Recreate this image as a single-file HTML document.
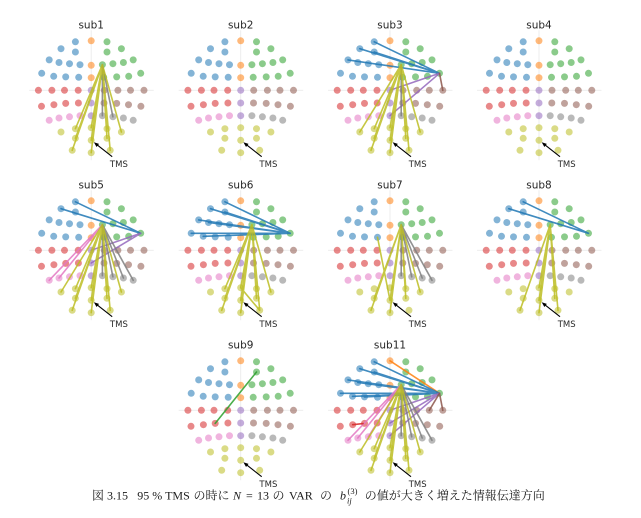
<!DOCTYPE html>
<html>
<head>
<meta charset="utf-8">
<style>
html,body{margin:0;padding:0;background:#fff;}
svg{display:block;}
.t{font-family:"DejaVu Sans","Liberation Sans",sans-serif;font-size:10.5px;fill:#262626;text-anchor:middle;}
.tms{font-family:"DejaVu Sans","Liberation Sans",sans-serif;font-size:8.5px;fill:#262626;text-anchor:middle;}
.cap{font-family:"Liberation Serif","Noto Serif CJK SC",serif;font-size:12px;fill:#1a1a1a;}
.ln path{fill:none;stroke-width:1.6;stroke-opacity:.85;stroke-linecap:round;}
</style>
</head>
<body>
<svg width="641" height="518" viewBox="0 0 641 518" xmlns="http://www.w3.org/2000/svg">
<defs>
<g id="base">
  <path d="M-62 0H62.5M0 -60V70" stroke="#ebebeb" stroke-width="0.9" fill="none"/>
  <g fill-opacity="0.55">
    <g fill="#1f77b4">
      <circle cx="-15.8" cy="-48.5" r="3.5"/><circle cx="-30.2" cy="-41.6" r="3.5"/><circle cx="-15.8" cy="-38.3" r="3.5"/>
      <circle cx="-42" cy="-30.4" r="3.5"/><circle cx="-32.2" cy="-27.8" r="3.5"/><circle cx="-21.7" cy="-26.6" r="3.5"/><circle cx="-11.2" cy="-25.6" r="3.5"/>
      <circle cx="-49.5" cy="-17" r="3.5"/><circle cx="-37.5" cy="-14" r="3.5"/><circle cx="-25.5" cy="-13.4" r="3.5"/><circle cx="-12.5" cy="-13" r="3.5"/>
    </g>
    <g fill="#ff7f0e">
      <circle cx="0" cy="-49.5" r="3.5"/><circle cx="0" cy="-25" r="3.5"/><circle cx="0" cy="-12.6" r="3.5"/>
    </g>
    <g fill="#2ca02c">
      <circle cx="15.8" cy="-48.5" r="3.5"/><circle cx="30.2" cy="-41.6" r="3.5"/><circle cx="15.8" cy="-38.3" r="3.5"/>
      <circle cx="42" cy="-30.4" r="3.5"/><circle cx="32.2" cy="-27.8" r="3.5"/><circle cx="21.7" cy="-26.6" r="3.5"/><circle cx="11.2" cy="-25.6" r="3.5"/>
      <circle cx="49.5" cy="-17" r="3.5"/><circle cx="37.5" cy="-14" r="3.5"/><circle cx="25.5" cy="-13.4" r="3.5"/><circle cx="12.5" cy="-13" r="3.5"/>
    </g>
    <g fill="#d62728">
      <circle cx="-52.8" cy="0" r="3.5"/><circle cx="-39.3" cy="0" r="3.5"/><circle cx="-26.7" cy="0" r="3.5"/><circle cx="-13" cy="0" r="3.5"/>
      <circle cx="-49.7" cy="16" r="3.5"/><circle cx="-37.3" cy="14.4" r="3.5"/><circle cx="-25.5" cy="13.1" r="3.5"/><circle cx="-12.8" cy="12.7" r="3.5"/>
    </g>
    <g fill="#9467bd">
      <circle cx="0" cy="0" r="3.5"/><circle cx="0" cy="12.7" r="3.5"/><circle cx="0" cy="25.4" r="3.5"/>
    </g>
    <g fill="#8c564b">
      <circle cx="52.8" cy="0" r="3.5"/><circle cx="39.3" cy="0" r="3.5"/><circle cx="26.7" cy="0" r="3.5"/><circle cx="13" cy="0" r="3.5"/>
      <circle cx="49.7" cy="16" r="3.5"/><circle cx="37.3" cy="14.4" r="3.5"/><circle cx="25.5" cy="13.1" r="3.5"/><circle cx="12.8" cy="12.7" r="3.5"/>
    </g>
    <g fill="#e377c2">
      <circle cx="-42" cy="30" r="3.5"/><circle cx="-32.2" cy="27.7" r="3.5"/><circle cx="-21.7" cy="26.5" r="3.5"/><circle cx="-11.2" cy="25.4" r="3.5"/>
    </g>
    <g fill="#7f7f7f">
      <circle cx="42" cy="30" r="3.5"/><circle cx="32.2" cy="27.7" r="3.5"/><circle cx="21.7" cy="26.5" r="3.5"/><circle cx="11.2" cy="25.4" r="3.5"/>
    </g>
    <g fill="#bcbd22">
      <circle cx="-30.2" cy="41.7" r="3.5"/><circle cx="-15.8" cy="38.4" r="3.5"/><circle cx="0" cy="37.4" r="3.5"/><circle cx="15.8" cy="38.4" r="3.5"/><circle cx="30.2" cy="41.7" r="3.5"/>
      <circle cx="-15.8" cy="48" r="3.5"/><circle cx="0" cy="50" r="3.5"/><circle cx="15.8" cy="48" r="3.5"/>
      <circle cx="-19" cy="60" r="3.5"/><circle cx="0" cy="62.4" r="3.5"/><circle cx="19" cy="60" r="3.5"/>
    </g>
  </g>
</g>
<g id="arrow">
  <path d="M21 66.4L6.2 54.8" stroke="#000" stroke-width="1.1" fill="none"/>
  <polygon points="2.7,52 7.84,53.53 5.36,56.67" fill="#000"/>
</g>
</defs>

<!-- Row 1 -->
<g transform="translate(91.2,90.3)">
  <use href="#base"/>
  <g class="ln">
    <path stroke="#7f7f7f" d="M11.2 -25.6L11.2 25.4M11.2 -25.6L21.7 26.5"/>
    <path stroke="#bcbd22" d="M11.2 -25.6L-15.8 38.4M11.2 -25.6L0 37.4M11.2 -25.6L15.8 38.4M11.2 -25.6L30.2 41.7M11.2 -25.6L-15.8 48M11.2 -25.6L0 50M11.2 -25.6L15.8 48M11.2 -25.6L-19 60M11.2 -25.6L0 62.4M11.2 -25.6L19 60"/>
  </g>
  <use href="#arrow"/>
  <text class="t" x="0" y="-62">sub1</text>
  <text class="tms" x="27.7" y="76.8">TMS</text>
</g>

<g transform="translate(240.7,90.3)">
  <use href="#base"/>
  <use href="#arrow"/>
  <text class="t" x="0" y="-62">sub2</text>
  <text class="tms" x="27.7" y="76.8">TMS</text>
</g>

<g transform="translate(390,90.3)">
  <use href="#base"/>
  <g class="ln">
    <path stroke="#1f77b4" d="M49.5 -17L-15.8 -48.5M49.5 -17L-30.2 -41.6M49.5 -17L-15.8 -38.3M49.5 -17L-42 -30.4"/>
    <path stroke="#9467bd" d="M49.5 -17L0 0M49.5 -17L0 25.4"/>
    <path stroke="#8c564b" d="M49.5 -17L52.8 0"/>
    <path stroke="#7f7f7f" d="M11.2 -25.6L11.2 25.4"/>
    <path stroke="#bcbd22" d="M11.2 -25.6L-30.2 41.7M11.2 -25.6L-15.8 38.4M11.2 -25.6L0 37.4M11.2 -25.6L15.8 38.4M11.2 -25.6L30.2 41.7M11.2 -25.6L-15.8 48M11.2 -25.6L0 50M11.2 -25.6L15.8 48M11.2 -25.6L-19 60M11.2 -25.6L0 62.4M11.2 -25.6L19 60"/>
  </g>
  <use href="#arrow"/>
  <text class="t" x="0" y="-62">sub3</text>
  <text class="tms" x="27.7" y="76.8">TMS</text>
</g>

<g transform="translate(539,90.3)">
  <use href="#base"/>
  <use href="#arrow"/>
  <text class="t" x="0" y="-62">sub4</text>
  <text class="tms" x="27.7" y="76.8">TMS</text>
</g>

<!-- Row 2 -->
<g transform="translate(91.2,250.3)">
  <use href="#base"/>
  <g class="ln">
    <path stroke="#1f77b4" d="M49.5 -17L-15.8 -48.5M49.5 -17L-30.2 -41.6"/>
    <path stroke="#9467bd" d="M49.5 -17L0 0M49.5 -17L0 12.7"/>
    <path stroke="#e377c2" d="M11.2 -25.6L-42 30M11.2 -25.6L-32.2 27.7"/>
    <path stroke="#7f7f7f" d="M11.2 -25.6L11.2 25.4M11.2 -25.6L21.7 26.5M11.2 -25.6L32.2 27.7M11.2 -25.6L42 30"/>
    <path stroke="#bcbd22" d="M11.2 -25.6L-30.2 41.7M11.2 -25.6L-15.8 38.4M11.2 -25.6L0 37.4M11.2 -25.6L15.8 38.4M11.2 -25.6L30.2 41.7M11.2 -25.6L-15.8 48M11.2 -25.6L0 50M11.2 -25.6L15.8 48M11.2 -25.6L-19 60M11.2 -25.6L0 62.4M11.2 -25.6L19 60"/>
  </g>
  <use href="#arrow"/>
  <text class="t" x="0" y="-62">sub5</text>
  <text class="tms" x="27.7" y="76.8">TMS</text>
</g>

<g transform="translate(240.7,250.3)">
  <use href="#base"/>
  <g class="ln">
    <path stroke="#1f77b4" d="M49.5 -17L-15.8 -48.5M49.5 -17L-30.2 -41.6M49.5 -17L-15.8 -38.3M49.5 -17L-42 -30.4M49.5 -17L-32.2 -27.8M49.5 -17L-49.5 -17M49.5 -17L-37.5 -14"/>
    <path stroke="#bcbd22" d="M11.2 -25.6L-15.8 38.4M11.2 -25.6L0 37.4M11.2 -25.6L15.8 38.4M11.2 -25.6L30.2 41.7M11.2 -25.6L-15.8 48M11.2 -25.6L0 50M11.2 -25.6L15.8 48M11.2 -25.6L-19 60M11.2 -25.6L0 62.4M11.2 -25.6L19 60M0 37.4L19 60"/>
  </g>
  <use href="#arrow"/>
  <text class="t" x="0" y="-62">sub6</text>
  <text class="tms" x="27.7" y="76.8">TMS</text>
</g>

<g transform="translate(390,250.3)">
  <use href="#base"/>
  <g class="ln">
    <path stroke="#7f7f7f" d="M11.2 -25.6L11.2 25.4M11.2 -25.6L21.7 26.5M11.2 -25.6L32.2 27.7M11.2 -25.6L42 30"/>
    <path stroke="#bcbd22" d="M11.2 -25.6L-19 60M11.2 -25.6L-15.8 48M11.2 -25.6L0 62.4M11.2 -25.6L0 50M11.2 -25.6L15.8 38.4M11.2 -25.6L15.8 48M11.2 -25.6L30.2 41.7M-12.5 -13L0 50"/>
  </g>
  <use href="#arrow"/>
  <text class="t" x="0" y="-62">sub7</text>
  <text class="tms" x="27.7" y="76.8">TMS</text>
</g>

<g transform="translate(539,250.3)">
  <use href="#base"/>
  <g class="ln">
    <path stroke="#1f77b4" d="M49.5 -17L-15.8 -48.5M49.5 -17L-30.2 -41.6"/>
    <path stroke="#bcbd22" d="M11.2 -25.6L-19 60M11.2 -25.6L0 37.4M11.2 -25.6L0 50M11.2 -25.6L0 62.4M11.2 -25.6L15.8 38.4M11.2 -25.6L15.8 48M11.2 -25.6L19 60"/>
  </g>
  <use href="#arrow"/>
  <text class="t" x="0" y="-62">sub8</text>
  <text class="tms" x="27.7" y="76.8">TMS</text>
</g>

<!-- Row 3 -->
<g transform="translate(240.7,410.3)">
  <use href="#base"/>
  <g class="ln">
    <path stroke="#2ca02c" d="M15.8 -38.3L-25.5 13.1"/>
  </g>
  <use href="#arrow"/>
  <text class="t" x="0" y="-62">sub9</text>
  <text class="tms" x="27.7" y="76.8">TMS</text>
</g>

<g transform="translate(390,410.3)">
  <use href="#base"/>
  <g class="ln">
    <path stroke="#ff7f0e" d="M49.5 -17L0 -49.5"/>
    <path stroke="#1f77b4" d="M49.5 -17L-15.8 -48.5M49.5 -17L-30.2 -41.6M49.5 -17L-15.8 -38.3M49.5 -17L-42 -30.4M49.5 -17L-32.2 -27.8M49.5 -17L-21.7 -26.6M49.5 -17L-49.5 -17M49.5 -17L-37.5 -14M49.5 -17L-25.5 -13.4"/>
    <path stroke="#9467bd" d="M49.5 -17L0 0M49.5 -17L0 12.7M49.5 -17L0 25.4"/>
    <path stroke="#8c564b" d="M49.5 -17L52.8 0M49.5 -17L39.3 0"/>
    <path stroke="#e377c2" d="M11.2 -25.6L-42 30M11.2 -25.6L-32.2 27.7M11.2 -25.6L-21.7 26.5"/>
    <path stroke="#d62728" d="M-37.3 14.4L-27 13.3"/>
    <path stroke="#7f7f7f" d="M11.2 -25.6L11.2 25.4M11.2 -25.6L21.7 26.5M11.2 -25.6L32.2 27.7M11.2 -25.6L42 30"/>
    <path stroke="#bcbd22" d="M11.2 -25.6L-30.2 41.7M11.2 -25.6L-15.8 38.4M11.2 -25.6L0 37.4M11.2 -25.6L15.8 38.4M11.2 -25.6L30.2 41.7M11.2 -25.6L-15.8 48M11.2 -25.6L0 50M11.2 -25.6L15.8 48M11.2 -25.6L-19 60M11.2 -25.6L0 62.4M11.2 -25.6L19 60"/>
  </g>
  <use href="#arrow"/>
  <text class="t" x="0" y="-62">sub11</text>
  <text class="tms" x="27.7" y="76.8">TMS</text>
</g>

<!-- Caption -->
<g class="cap">
  <text x="92" y="499.5">図</text>
  <text x="107" y="499.5">3.15</text>
  <text x="137.3" y="499.5">95 % TMS</text>
  <text x="193.5" y="499.5">の時に</text>
  <text x="233" y="499.5" font-style="italic">N</text>
  <text x="246" y="499.5">=</text>
  <text x="257" y="499.5">13</text>
  <text x="272.5" y="499.5">の</text>
  <text x="289" y="499.5">VAR</text>
  <text x="320" y="499.5">の</text>
  <text x="340" y="499.5" font-style="italic">b</text>
  <text x="347.5" y="494" font-size="8.5">(3)</text>
  <text x="347" y="503.5" font-size="8.5" font-style="italic">ij</text>
  <text x="364.7" y="499.5">の値が大きく増えた情報伝達方向</text>
</g>
</svg>
</body>
</html>
